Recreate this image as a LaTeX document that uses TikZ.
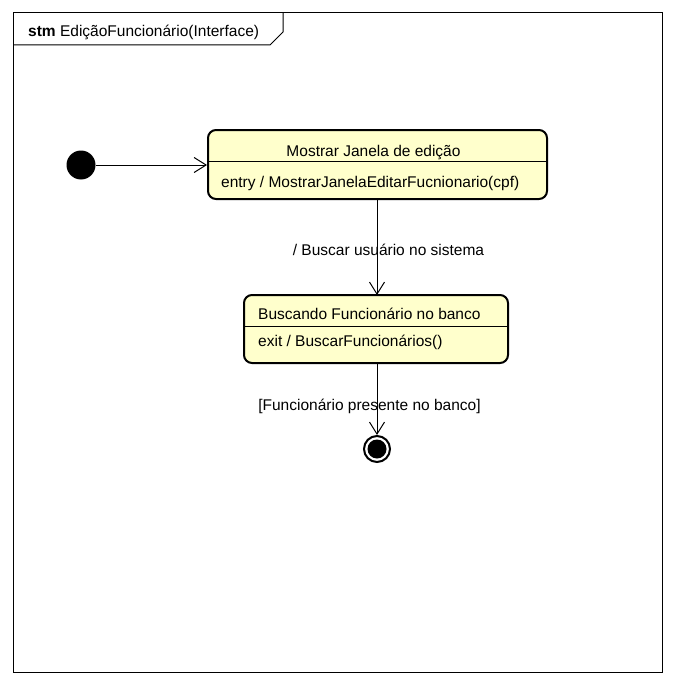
\documentclass[tikz,border=0pt]{standalone}
\usepackage{fontspec}
\setmainfont{Liberation Sans}
\usetikzlibrary{arrows.meta}
\definecolor{statefill}{HTML}{FFFFCC}
\tikzset{
  frameline/.style={draw=black, line width=1pt},
  statebox/.style={draw=black, fill=statefill, line width=2pt, rounded corners=8pt, rectangle, inner sep=0pt},
  txt/.style={inner sep=0pt, font=\fontsize{15.5}{18}\selectfont, anchor=base},
  trans/.style={draw=black, line width=1pt, -{Straight Barb[length=12pt,width=15pt,line width=1pt]}},
}
\begin{document}
\begin{tikzpicture}[x=1pt,y=-1pt]
\useasboundingbox (0,0) rectangle (676,685);
% frame
\draw[frameline] (13,13) rectangle (662.5,672);
\draw[frameline] (13,45) -- (270,45) -- (283,32) -- (283,13);
\node[txt, anchor=base west] (title) at (28,37) {\textbf{stm} EdiçãoFuncionário(Interface)};
% initial
\node[circle, fill=black, minimum size=29pt, inner sep=0pt] (init) at (81,165) {};
% state 1
\node[statebox, minimum width=339pt, minimum height=69pt] (s1) at (377.5,164.5) {};
\draw[line width=1pt] (s1.west |- 0,161.5) -- (s1.east |- 0,161.5);
\node[txt] (s1t) at (373.5,156) {Mostrar Janela de edição};
\node[txt, anchor=base west] (s1e) at (221,187) {entry / MostrarJanelaEditarFucnionario(cpf)};
% state 2
\node[statebox, minimum width=264pt, minimum height=68pt] (s2) at (376,329) {};
\draw[line width=1pt] (s2.west |- 0,326.5) -- (s2.east |- 0,326.5);
\node[txt, anchor=base west] (s2t) at (258,319) {Buscando Funcionário no banco};
\node[txt, anchor=base west] (s2e) at (258,346) {exit / BuscarFuncionários()};
% final
\node[circle, draw=black, line width=2pt, fill=white, minimum size=26pt, inner sep=0pt] (fin) at (377,449) {};
\node[circle, fill=black, minimum size=19pt, inner sep=0pt] (finin) at (fin.center) {};
% transitions
\draw[trans] (init.east) -- (s1.west |- init.east);
\draw[trans] (377,199) coordinate (t1a) -- (377,295) coordinate (t1b);
\node[txt] (l1) at (388.5,255) {/ Buscar usuário no sistema};
\draw[trans] (377,363) coordinate (t2a) -- (fin.north);
\node[txt] (l2) at (369.5,410) {[Funcionário presente no banco]};
\end{tikzpicture}
\end{document}
